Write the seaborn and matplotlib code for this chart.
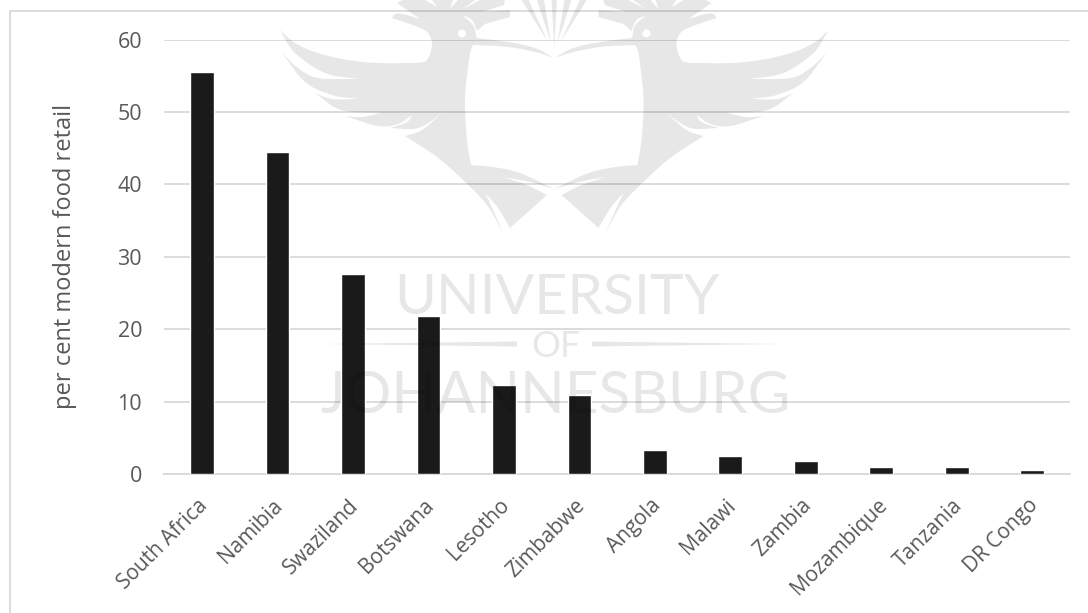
import matplotlib
matplotlib.use("Agg")
import matplotlib.pyplot as plt
from matplotlib.lines import Line2D
from matplotlib.patches import Polygon, Ellipse
from matplotlib.transforms import ScaledTranslation
import numpy as np
import pandas as pd
import seaborn as sns

countries = ["South Africa", "Namibia", "Swaziland", "Botswana", "Lesotho", "Zimbabwe",
             "Angola", "Malawi", "Zambia", "Mozambique", "Tanzania", "DR Congo"]
modern_retail_share = [55.5, 44.5, 27.6, 21.8, 12.3, 10.9, 3.3, 2.5, 1.8, 1.0, 0.9, 0.5]
y_ticks = [0, 10, 20, 30, 40, 50, 60]
y_title = "per cent modern food retail"

W, H = 1088, 613
TEXT = "#595959"
GRID = "#d9d9d9"

sns.set_theme(style="white")
plt.rcParams["font.family"] = ["Open Sans", "DejaVu Sans"]

fig = plt.figure(figsize=(W / 100, H / 100), dpi=100, facecolor="white")
ax = fig.add_axes([164.25 / W, 1 - 474 / H, (1070 - 164.25) / W, (474 - 39.7) / H])
ax.patch.set_alpha(0)

df = pd.DataFrame({"country": countries, "share": modern_retail_share})
sns.barplot(data=df, x="country", y="share", color="#1a1a1a", saturation=1, width=0.314, ax=ax, zorder=3)

ax.set_xlim(-0.5, len(countries) - 0.5)
ax.set_ylim(0, 60)
ax.set_yticks(y_ticks)
ax.set_xlabel("")
ax.set_ylabel(y_title, fontsize=17, color=TEXT, labelpad=29)
ax.yaxis.grid(True, color=GRID, lw=1.3, zorder=1)
ax.set_axisbelow(True)
for name, spine in ax.spines.items():
    spine.set_visible(name == "bottom")
ax.spines["bottom"].set_color(GRID)
ax.spines["bottom"].set_linewidth(1.3)
ax.tick_params(axis="y", length=0, pad=16, labelsize=15.5, labelcolor=TEXT)
ax.tick_params(axis="x", length=0, pad=15, labelsize=15, labelcolor=TEXT)
nudge = ScaledTranslation(-5 / 100, 0, fig.dpi_scale_trans)
for label in ax.get_xticklabels():
    label.set(rotation=45, ha="right", rotation_mode="anchor")
    label.set_transform(label.get_transform() + nudge)

# Chart frame: only the top and left edges fall inside the page
fig.add_artist(Line2D([9.5 / W, 9.5 / W, 1], [0, 1 - 10.7 / H, 1 - 10.7 / H], color=GRID, lw=1.3))

# University crest watermark, laid over the chart as a translucent layer.
# Each stroke is one smooth run of the left half's outline; the right half mirrors it.
CENTRE = 554.25
crest_strokes = [
    [(CENTRE, 58), (535, 52), (508, 47), (475, 45)],
    [(475, 45), (472, 47), (469, 60), (465, 100), (467, 140), (471, 165)],
    [(471, 165), (493, 167), (520, 173), (CENTRE, 189)],
    [(CENTRE, 189), (530, 182), (503, 177)],
    [(503, 177), (527, 185), (547, 195)],
    [(547, 195), (510, 228)],
    [(510, 228), (498, 208), (485, 193)],
    [(485, 193), (493, 210), (503, 233)],
    [(503, 233), (487, 205), (463, 180), (437, 157), (405, 136)],
    [(405, 136), (422, 130), (442, 113)],
    [(442, 113), (425, 125), (412, 129), (390, 128)],
    [(390, 128), (407, 122), (412, 115)],
    [(412, 115), (398, 124), (378, 126), (345, 116)],
    [(345, 116), (362, 117), (381, 113)],
    [(381, 113), (341, 110), (315, 93)],
    [(315, 93), (332, 99), (358, 99)],
    [(358, 99), (332, 95), (305, 82), (282, 53)],
    [(282, 53), (298, 68), (318, 78), (358, 79)],
    [(358, 79), (325, 73), (295, 53), (280, 30)],
    [(280, 30), (295, 43), (318, 53), (348, 60), (378, 63), (418, 63)],
    [(418, 63), (427, 60), (432, 45), (428, 33), (418, 27), (392, 18)],
    [(392, 18), (395, 14), (403, 14), (420, 19)],
    [(420, 19), (397, 3)],
    [(397, 3), (403, 0)],
    [(403, 0), (425, 0)],
    [(425, 0), (437, 7)],
    [(437, 7), (432, 0)],
    [(432, 0), (453, 0)],
    [(453, 0), (450, 9)],
    [(450, 9), (458, 0)],
    [(458, 0), (475, 0)],
    [(475, 0), (463, 9)],
    [(463, 9), (480, 0)],
    [(480, 0), (505, 0)],
    [(505, 0), (504, 5)],
    [(504, 5), (482, 12)],
    [(482, 12), (510, 10)],
    [(510, 10), (510, 17)],
    [(510, 17), (485, 24)],
    [(485, 24), (477, 31)],
    [(477, 31), (472, 20), (462, 15)],
    [(462, 15), (473, 25), (476, 35), (477, 38)],
    [(477, 38), (508, 42), (535, 48), (CENTRE, 58)],
]
crest_rays = [
    [(521.7, 0), (528.6, 0), (548, 42)],
    [(537, 0), (544, 0), (551, 43)],
]
centre_ray = [(551.6, 0), (556.9, 0), (CENTRE, 47)]

def smooth(stroke, steps=10):
    """Catmull-Rom through a stroke's points, keeping its two ends as corners."""
    p = np.asarray(stroke, dtype=float)
    if len(p) < 3:
        return p[:-1]
    q = np.vstack([2 * p[0] - p[1], p, 2 * p[-1] - p[-2]])
    out = []
    for i in range(1, len(q) - 2):
        t = np.linspace(0, 1, steps, endpoint=False)[:, None]
        out.append(0.5 * (2 * q[i] + (q[i + 1] - q[i - 1]) * t
                          + (2 * q[i - 1] - 5 * q[i] + 4 * q[i + 1] - q[i + 2]) * t ** 2
                          + (3 * q[i] - q[i - 1] - 3 * q[i + 1] + q[i + 2]) * t ** 3))
    return np.vstack(out)

WM_ALPHA = 0.095

def wm_poly(points, mirror=False):
    pts = np.asarray(points, dtype=float)
    xs = 2 * CENTRE - pts[:, 0] if mirror else pts[:, 0]
    fig.add_artist(Polygon(np.column_stack([xs / W, 1 - pts[:, 1] / H]), closed=True,
                           transform=fig.transFigure, fc="black", ec="none",
                           alpha=WM_ALPHA, zorder=10))

half_outline = np.vstack([smooth(s) for s in crest_strokes])
for mirror in (False, True):
    wm_poly(half_outline, mirror)
    for ray in crest_rays:
        wm_poly(ray, mirror)
    eye_x = 2 * CENTRE - 462 if mirror else 462
    fig.add_artist(Ellipse((eye_x / W, 1 - 33.5 / H), 8 / W, 8 / H, transform=fig.transFigure,
                           fc="white", ec="none", zorder=11))
wm_poly(centre_ray)

def wm_text(x, y, s, size):
    fig.text(x / W, 1 - y / H, s, ha="center", va="baseline", fontsize=size, family="Lato",
             color="black", alpha=WM_ALPHA, zorder=10)

wm_text(556.5, 314, "UNIVERSITY", 41)
wm_text(556, 357, "OF", 26)
wm_text(555, 413, "JOHANNESBURG", 42)

# Tapered rules either side of "OF"
for a, b in ((322, 517), (787, 592)):
    wm_poly([(a, 344), (b, 341.5), (b, 346.5)])

fig.savefig("out.png", dpi=100, facecolor="white")
